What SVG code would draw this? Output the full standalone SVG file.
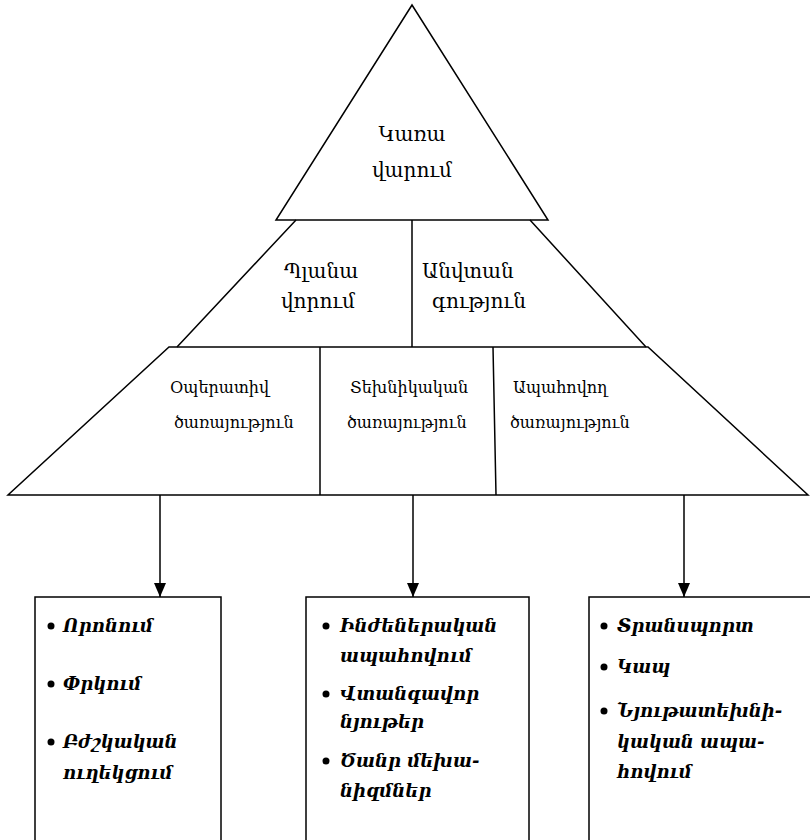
<svg xmlns="http://www.w3.org/2000/svg" width="810" height="840" viewBox="0 0 810 840">
<style>
.s{fill:none;stroke:#000;stroke-width:1.5}
.t{font-family:"DejaVu Serif","Noto Sans",serif;fill:#000}
.big{font-size:20px;text-anchor:middle}
.mid{font-size:20px}
.sm{font-size:16px}
.it{font-family:"DejaVu Serif","Noto Sans",serif;font-style:italic;font-weight:bold;font-size:18px;fill:#000}
</style>
<defs>
<marker id="ah" markerWidth="14" markerHeight="12" refX="14" refY="6" orient="auto" markerUnits="userSpaceOnUse" viewBox="0 0 14 12">
<path d="M0,0 L14,6 L0,12 Z" fill="#000"/>
</marker>
</defs>
<rect width="810" height="840" fill="#fff"/>
<g id="top">
<path class="s" d="M412,5 L276,220 L548,220 Z"/>
<text class="t big" x="412" y="141">Կառա</text>
<text class="t big" x="412" y="177">վարում</text>
</g>
<g id="middle">
<path class="s" d="M296,220 L177,347 M530,220 L646,347 M412,220 L412,347"/>
<text class="t mid" x="284" y="278">Պլանա</text>
<text class="t mid" x="281" y="308">վորում</text>
<text class="t mid" x="422" y="278">Անվտան</text>
<text class="t mid" x="432" y="308">գություն</text>
</g>
<g id="bottom">
<path class="s" d="M169,347 L648,347 L808,495 L8,495 Z M320,347 L320,495 M493,347 L496,495"/>
<text class="t sm" x="170" y="393">Օպերատիվ</text>
<text class="t sm" x="174" y="428">ծառայություն</text>
<text class="t sm" x="350" y="393">Տեխնիկական</text>
<text class="t sm" x="347" y="428">ծառայություն</text>
<text class="t sm" x="513" y="393">Ապահովող</text>
<text class="t sm" x="510" y="428">ծառայություն</text>
</g>
<g id="connectors">
<line class="s" x1="160" y1="495" x2="160" y2="597" marker-end="url(#ah)"/>
<line class="s" x1="413" y1="495" x2="413" y2="597" marker-end="url(#ah)"/>
<line class="s" x1="684" y1="495" x2="684" y2="597" marker-end="url(#ah)"/>
</g>
<g id="box1">
<rect class="s" x="35" y="597" width="186" height="245"/>
<circle cx="51" cy="626" r="3.5"/>
<text class="it" x="63" y="632">Որոնում</text>
<circle cx="51" cy="684" r="3.5"/>
<text class="it" x="63" y="690">Փրկում</text>
<circle cx="51" cy="742" r="3.5"/>
<text class="it" x="63" y="748">Բժշկական</text>
<text class="it" x="63" y="779">ուղեկցում</text>
</g>
<g id="box2">
<rect class="s" x="306" y="597" width="223" height="245"/>
<circle cx="326" cy="626" r="3.5"/>
<text class="it" x="340" y="632">Ինժեներական</text>
<text class="it" x="340" y="662">ապահովում</text>
<circle cx="326" cy="694" r="3.5"/>
<text class="it" x="340" y="700">Վտանգավոր</text>
<text class="it" x="340" y="728">նյութեր</text>
<circle cx="326" cy="761" r="3.5"/>
<text class="it" x="340" y="767">Ծանր  մեխա-</text>
<text class="it" x="340" y="797">նիզմներ</text>
</g>
<g id="box3">
<rect class="s" x="589" y="597" width="230" height="245"/>
<circle cx="604" cy="626" r="3.5"/>
<text class="it" x="617" y="632">Տրանսպորտ</text>
<circle cx="604" cy="667" r="3.5"/>
<text class="it" x="617" y="673">Կապ</text>
<circle cx="604" cy="711" r="3.5"/>
<text class="it" x="617" y="717">Նյութատեխնի-</text>
<text class="it" x="617" y="748">կական ապա-</text>
<text class="it" x="617" y="778">հովում</text>
</g>
</svg>
